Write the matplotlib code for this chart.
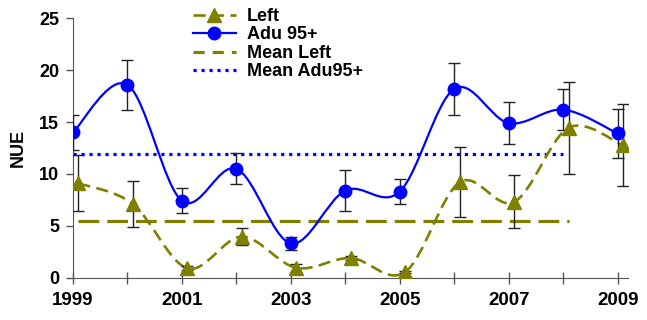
import numpy as np
import matplotlib
matplotlib.use("Agg")
from matplotlib import pyplot as plt
from matplotlib.path import Path
from matplotlib.patches import PathPatch
from matplotlib.lines import Line2D

plt.rcParams['font.family'] = ['Liberation Sans', 'DejaVu Sans']
plt.rcParams['font.weight'] = 'bold'

years = [1999, 2000, 2001, 2002, 2003, 2004, 2005, 2006, 2007, 2008, 2009]

adu = [14.0, 18.6, 7.4, 10.5, 3.3, 8.4, 8.3, 18.2, 14.9, 16.2, 13.9]
adu_err = [1.7, 2.4, 1.2, 1.5, 0.6, 1.95, 1.2, 2.5, 2.05, 2.0, 2.4]

left = [9.1, 7.1, 0.9, 3.95, 0.95, 1.9, 0.55, 9.2, 7.3, 14.45, 12.75]
left_err = [2.7, 2.2, 0.2, 0.8, 0.4, 0.2, 0.1, 3.35, 2.55, 4.45, 3.95]

mean_left = 5.5
mean_adu = 11.9
mean_span = (1999, 2008)

OLIVE = '#808000'
BLUE = '#0000ff'

LEFT_DASH = (4.6, 2.4)
MEAN_LEFT_DASH = (6.5, 2.5)
MEAN_ADU_DASH = (1.0, 1.5)


def smooth_path(x, y):
    # Catmull-Rom style bezier through the points (like Excel's smoothed line)
    x = np.asarray(x, float)
    y = np.asarray(y, float)
    pts = np.column_stack([x, y])
    ext = np.vstack([pts[0], pts, pts[-1]])
    verts = [pts[0]]
    codes = [Path.MOVETO]
    for i in range(len(pts) - 1):
        p0, p1, p2, p3 = ext[i], ext[i + 1], ext[i + 2], ext[i + 3]
        c1 = p1 + (p2 - p0) / 6.0
        c2 = p2 - (p3 - p1) / 6.0
        verts += [c1, c2, p2]
        codes += [Path.CURVE4] * 3
    return Path(verts, codes)


fig = plt.figure(figsize=(6.47, 3.2), dpi=100)
ax = fig.add_axes([0.1128, 0.1322, 0.8578, 0.8106])

x_left = np.array(years) + 0.1

# mean lines
ax.plot([mean_span[0] + 0.1, mean_span[1] + 0.1], [mean_left, mean_left],
        color=OLIVE, lw=2.3, dashes=MEAN_LEFT_DASH, dash_capstyle='butt',
        zorder=2)
ax.plot(mean_span, [mean_adu, mean_adu], color=BLUE, lw=2.3,
        dashes=MEAN_ADU_DASH, zorder=2)

# Left series
ax.add_patch(PathPatch(smooth_path(x_left, left), fill=False, edgecolor=OLIVE,
                       lw=1.9, linestyle=(0, LEFT_DASH), zorder=3))
ax.errorbar(x_left, left, yerr=left_err, fmt='none', ecolor='#222222',
            elinewidth=1.0, capsize=4, capthick=1.0, zorder=4)
ax.plot(x_left, left, linestyle='none', marker='^', ms=10, color=OLIVE,
        zorder=5)

# Adu 95+ series
ax.add_patch(PathPatch(smooth_path(years, adu), fill=False, edgecolor=BLUE,
                       lw=1.6, zorder=3))
ax.errorbar(years, adu, yerr=adu_err, fmt='none', ecolor='#222222',
            elinewidth=1.0, capsize=4, capthick=1.0, zorder=4)
ax.plot(years, adu, linestyle='none', marker='o', ms=9, color=BLUE, zorder=5)

ax.set_xlim(1999, 2009.19)
ax.set_ylim(0, 25)
ax.set_xticks(years, minor=True)
ax.set_xticks(years[::2])
ax.set_xticklabels([str(y) for y in years[::2]], fontsize=13.5, fontweight='bold')
ax.set_yticks([0, 5, 10, 15, 20, 25])
ax.set_yticklabels(['0', '5', '10', '15', '20', '25'], fontsize=13, fontweight='bold')
ax.tick_params(axis='x', which='both', direction='inout', length=9,
               width=1, color='#555555', pad=6)
ax.tick_params(axis='y', direction='out', length=5, width=1,
               color='#555555', pad=5)
for side in ['top', 'right']:
    ax.spines[side].set_visible(False)
for side in ['left', 'bottom']:
    ax.spines[side].set_color('#555555')
ax.set_ylabel('NUE', fontsize=13, fontweight='bold')
ax.yaxis.set_label_coords(-0.083, 0.5)

handles = [
    Line2D([], [], color=OLIVE, lw=1.9, dashes=LEFT_DASH, marker='^', ms=10),
    Line2D([], [], color=BLUE, lw=1.6, marker='o', ms=9),
    Line2D([], [], color=OLIVE, lw=2.3, dashes=(3.5, 2.5)),
    Line2D([], [], color=BLUE, lw=2.3, dashes=MEAN_ADU_DASH),
]
labels = ['Left', 'Adu 95+', 'Mean Left', 'Mean Adu95+']
fig.legend(handles, labels, loc='upper left', bbox_to_anchor=(0.298, 0.975),
           frameon=False, borderpad=0, borderaxespad=0, labelspacing=0.08,
           handlelength=2.4, handletextpad=0.6,
           prop={'size': 13, 'weight': 'bold'})

fig.savefig('out.png', dpi=100)
